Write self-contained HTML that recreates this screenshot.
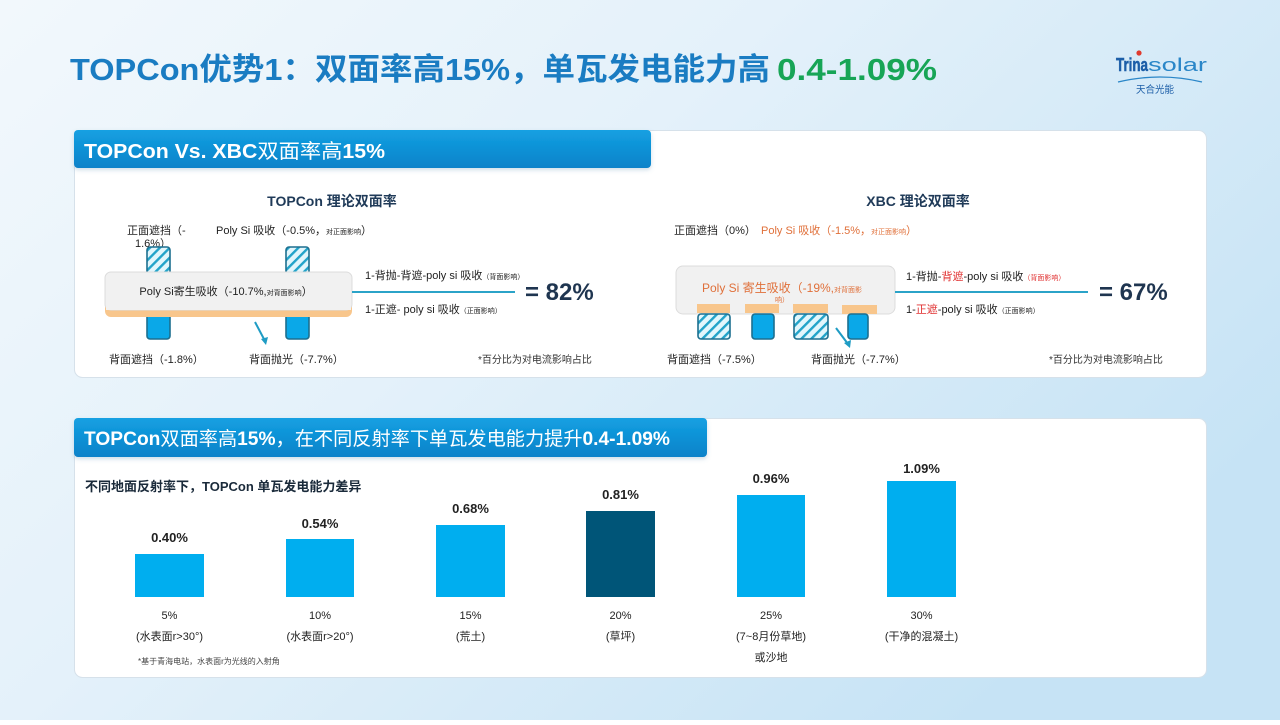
<!DOCTYPE html>
<html><head><meta charset="utf-8">
<style>
html,body{margin:0;padding:0;}
body{width:1280px;height:720px;overflow:hidden;font-family:"Liberation Sans","Noto Sans CJK SC",sans-serif;}
svg text{font-family:"Liberation Sans","Noto Sans CJK SC",sans-serif;}
</style></head>
<body>
<svg width="1280" height="720" viewBox="0 0 1280 720" xmlns="http://www.w3.org/2000/svg">
<defs>
<linearGradient id="bg" x1="0" y1="0" x2="1" y2="0.6">
<stop offset="0" stop-color="#f2f8fc"/>
<stop offset="0.45" stop-color="#e4f1fa"/>
<stop offset="1" stop-color="#c6e3f5"/>
</linearGradient>
<linearGradient id="tab" x1="0" y1="0" x2="0" y2="1">
<stop offset="0" stop-color="#14a0e2"/>
<stop offset="1" stop-color="#0a82c9"/>
</linearGradient>
<pattern id="hatch" width="7" height="7" patternUnits="userSpaceOnUse" patternTransform="rotate(45)">
<rect width="7" height="7" fill="#e2f6fc"/>
<rect width="2.4" height="7" fill="#22a3c9"/>
</pattern>
<filter id="sh" x="-5%" y="-20%" width="110%" height="150%">
<feDropShadow dx="0" dy="2" stdDeviation="2" flood-color="#5a8db0" flood-opacity="0.3"/>
</filter>
</defs>
<rect width="1280" height="720" fill="url(#bg)"/>

<!-- Title -->
<text x="70" y="80" font-size="31" font-weight="bold" fill="#1a7cc2" textLength="700" lengthAdjust="spacingAndGlyphs">TOPCon优势1：双面率高15%，单瓦发电能力高</text>
<text x="777" y="80" font-size="31" font-weight="bold" fill="#17a556" textLength="160" lengthAdjust="spacingAndGlyphs">0.4-1.09%</text>

<!-- Logo -->
<text x="1116" y="71" font-size="18" font-weight="bold" fill="#1c5ea8" textLength="32" lengthAdjust="spacingAndGlyphs" stroke="#1c5ea8" stroke-width="0.5">Trina</text>
<text x="1148" y="71" font-size="18" fill="#2a86c8" textLength="59" lengthAdjust="spacingAndGlyphs">solar</text>
<circle cx="1139" cy="53" r="2.6" fill="#e03a2e"/>
<path d="M1118 82 Q1160 72 1202 82" stroke="#2a86c8" stroke-width="1.3" fill="none"/>
<text x="1136" y="93" font-size="10" fill="#1c5ea8" textLength="38" lengthAdjust="spacingAndGlyphs">天合光能</text>

<!-- Panel 1 -->
<rect x="74.5" y="130.5" width="1132" height="247" rx="8" fill="#ffffff" stroke="#d6e1ea"/>
<rect x="74" y="130" width="577" height="38" rx="4" fill="url(#tab)" filter="url(#sh)"/>
<text x="84" y="158" font-size="20" fill="#ffffff" textLength="301" lengthAdjust="spacingAndGlyphs"><tspan font-weight="bold">TOPCon Vs. XBC</tspan>双面率高<tspan font-weight="bold">15%</tspan></text>

<!-- Left diagram -->
<text x="332" y="206" font-size="14" font-weight="bold" fill="#1f3a58" text-anchor="middle">TOPCon 理论双面率</text>
<text x="127" y="234" font-size="11" fill="#222">正面遮挡（-</text>
<text x="153" y="247" font-size="11" fill="#222" text-anchor="middle">1.6%）</text>
<text x="216" y="234" font-size="11" fill="#222">Poly Si 吸收（-0.5%，<tspan font-size="7">对正面影响</tspan>）</text>

<rect x="147" y="247" width="23" height="30" rx="3" fill="url(#hatch)" stroke="#1d6f8f" stroke-width="1.6"/>
<rect x="286" y="247" width="23" height="30" rx="3" fill="url(#hatch)" stroke="#1d6f8f" stroke-width="1.6"/>
<rect x="147" y="312" width="23" height="27" rx="3" fill="#0aa8e8" stroke="#1d6f8f" stroke-width="1.6"/>
<rect x="286" y="312" width="23" height="27" rx="3" fill="#0aa8e8" stroke="#1d6f8f" stroke-width="1.6"/>

<rect x="105" y="272" width="247" height="45" rx="6" fill="#f8c68c"/>
<rect x="105" y="272" width="247" height="38" rx="6" fill="#f1f1f1" stroke="#dcdcdc"/>
<rect x="106" y="300" width="245" height="10" fill="#f1f1f1"/>
<text x="226" y="295" font-size="11" fill="#222" text-anchor="middle">Poly Si寄生吸收（-10.7%,<tspan font-size="7">对背面影响</tspan>）</text>

<line x1="255" y1="322" x2="265" y2="341" stroke="#1f9cc4" stroke-width="2"/>
<path d="M261 339 L266 345 L268 337 Z" fill="#1f9cc4"/>

<line x1="352" y1="292" x2="515" y2="292" stroke="#2ba3c8" stroke-width="2"/>
<text x="365" y="279" font-size="11" fill="#222">1-背抛-背遮-poly si 吸收<tspan font-size="7">（背面影响）</tspan></text>
<text x="365" y="313" font-size="11" fill="#222">1-正遮- poly si 吸收<tspan font-size="7">（正面影响）</tspan></text>
<text x="525" y="300" font-size="24" font-weight="bold" fill="#1f3550">= 82%</text>

<text x="109" y="363" font-size="11" fill="#222">背面遮挡（-1.8%）</text>
<text x="249" y="363" font-size="11" fill="#222">背面抛光（-7.7%）</text>
<text x="478" y="363" font-size="10" fill="#333">*百分比为对电流影响占比</text>

<!-- Right diagram -->
<text x="918" y="206" font-size="14" font-weight="bold" fill="#1f3a58" text-anchor="middle">XBC 理论双面率</text>
<text x="674" y="234" font-size="11" fill="#222">正面遮挡（0%）</text>
<text x="761" y="234" font-size="11" fill="#e0703a">Poly Si 吸收（-1.5%，<tspan font-size="7">对正面影响</tspan>）</text>

<rect x="676" y="266" width="219" height="48" rx="7" fill="#f1f1f1" stroke="#dcdcdc"/>
<text x="782" y="292" font-size="12" fill="#e0703a" text-anchor="middle">Poly Si 寄生吸收（-19%,<tspan font-size="7">对背面影</tspan></text>
<text x="782" y="302" font-size="7" fill="#e0703a" text-anchor="middle">响）</text>
<rect x="697" y="304" width="33" height="9" fill="#f8c68c"/>
<rect x="745" y="304" width="34" height="9" fill="#f8c68c"/>
<rect x="793" y="304" width="35" height="9" fill="#f8c68c"/>
<rect x="842" y="305" width="35" height="9" fill="#f8c68c"/>
<rect x="698" y="314" width="32" height="25" rx="3" fill="url(#hatch)" stroke="#1d6f8f" stroke-width="1.6"/>
<rect x="752" y="314" width="22" height="25" rx="3" fill="#0aa8e8" stroke="#1d6f8f" stroke-width="1.6"/>
<rect x="794" y="314" width="34" height="25" rx="3" fill="url(#hatch)" stroke="#1d6f8f" stroke-width="1.6"/>
<rect x="848" y="314" width="20" height="25" rx="3" fill="#0aa8e8" stroke="#1d6f8f" stroke-width="1.6"/>

<line x1="836" y1="328" x2="848" y2="344" stroke="#1f9cc4" stroke-width="2"/>
<path d="M844 343 L850 348 L851 340 Z" fill="#1f9cc4"/>

<line x1="895" y1="292" x2="1088" y2="292" stroke="#2ba3c8" stroke-width="2"/>
<text x="906" y="280" font-size="11" fill="#222">1-背抛-<tspan fill="#e03030">背遮</tspan>-poly si 吸收<tspan font-size="7" fill="#e03030">（背面影响）</tspan></text>
<text x="906" y="313" font-size="11" fill="#222">1-<tspan fill="#e03030">正遮</tspan>-poly si 吸收<tspan font-size="7">（正面影响）</tspan></text>
<text x="1099" y="300" font-size="24" font-weight="bold" fill="#1f3550">= 67%</text>

<text x="667" y="363" font-size="11" fill="#222">背面遮挡（-7.5%）</text>
<text x="811" y="363" font-size="11" fill="#222">背面抛光（-7.7%）</text>
<text x="1049" y="363" font-size="10" fill="#333">*百分比为对电流影响占比</text>

<!-- Panel 2 -->
<rect x="74.5" y="418.5" width="1132" height="259" rx="8" fill="#ffffff" stroke="#d6e1ea"/>
<rect x="74" y="418" width="633" height="39" rx="4" fill="url(#tab)" filter="url(#sh)"/>
<text x="84" y="445" font-size="19" fill="#ffffff" textLength="586" lengthAdjust="spacingAndGlyphs"><tspan font-weight="bold">TOPCon</tspan>双面率高<tspan font-weight="bold">15%</tspan>，在不同反射率下单瓦发电能力提升<tspan font-weight="bold">0.4-1.09%</tspan></text>

<text x="85" y="491" font-size="13" font-weight="bold" fill="#1a2a3a">不同地面反射率下，TOPCon 单瓦发电能力差异</text>

<!-- Bars -->
<rect x="135" y="554" width="69" height="43" fill="#00aeef"/>
<rect x="286" y="539" width="68" height="58" fill="#00aeef"/>
<rect x="436" y="525" width="69" height="72" fill="#00aeef"/>
<rect x="586" y="511" width="69" height="86" fill="#005578"/>
<rect x="737" y="495" width="68" height="102" fill="#00aeef"/>
<rect x="887" y="481" width="69" height="116" fill="#00aeef"/>

<g font-size="13" font-weight="bold" fill="#222" text-anchor="middle">
<text x="169.5" y="542">0.40%</text>
<text x="320" y="528">0.54%</text>
<text x="470.5" y="513">0.68%</text>
<text x="620.5" y="499">0.81%</text>
<text x="771" y="483">0.96%</text>
<text x="921.5" y="473">1.09%</text>
</g>

<g font-size="11" fill="#222" text-anchor="middle">
<text x="169.5" y="619">5%</text>
<text x="169.5" y="640">(水表面r&gt;30°)</text>
<text x="320" y="619">10%</text>
<text x="320" y="640">(水表面r&gt;20°)</text>
<text x="470.5" y="619">15%</text>
<text x="470.5" y="640">(荒土)</text>
<text x="620.5" y="619">20%</text>
<text x="620.5" y="640">(草坪)</text>
<text x="771" y="619">25%</text>
<text x="771" y="640">(7~8月份草地)</text>
<text x="771" y="661">或沙地</text>
<text x="921.5" y="619">30%</text>
<text x="921.5" y="640">(干净的混凝土)</text>
</g>
<text x="138" y="664" font-size="8" fill="#444">*基于青海电站，水表面r为光线的入射角</text>
</svg>
</body></html>
